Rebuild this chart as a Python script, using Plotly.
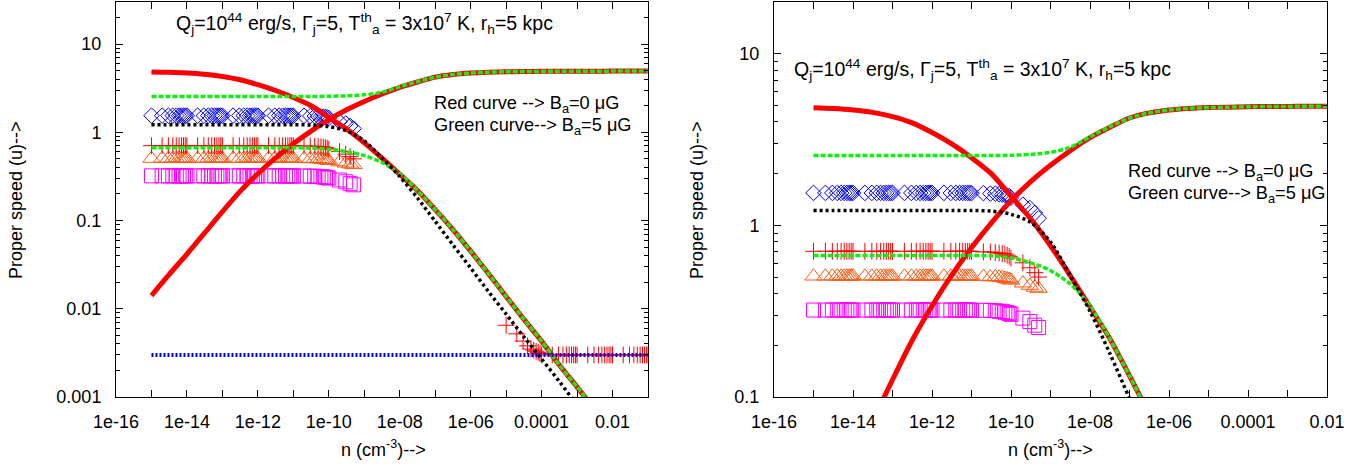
import math
import plotly.graph_objects as go

# ---------------- data ----------------
# density grid for the continuous curves (cm^-3)
N_CURVE = [1e-15, 3.16e-15, 1e-14, 3.16e-14, 1e-13, 3.16e-13, 1e-12, 3.16e-12,
           1e-11, 3.16e-11, 1e-10, 3.16e-10, 1e-9, 3.16e-9, 1e-8, 3.16e-8,
           1e-7, 3.16e-7, 1e-6, 3.16e-6, 1e-5, 3.16e-5, 1e-4, 3.16e-4,
           1e-3, 3.16e-3, 1e-2, 3.16e-2, 1e-1]

# red curve, B_a = 0, decreasing branch
U_RED_DEC = [4.84, 4.79, 4.70, 4.55, 4.30, 3.95, 3.47, 2.98,
             2.48, 2.00, 1.48, 1.09, 0.76, 0.51, 0.335, 0.219,
             0.133, 0.079, 0.045, 0.025, 0.0138, 0.0076, 0.0043, 0.0023,
             0.0013, 0.00072, 0.0004, 0.00022, 0.00012]

# red curve, B_a = 0, increasing branch
U_RED_INC = [0.0141, 0.0245, 0.0417, 0.0724, 0.126, 0.214, 0.339, 0.513,
             0.741, 1.03, 1.39, 1.80, 2.24, 2.72, 3.24, 3.72,
             4.22, 4.52, 4.70, 4.80, 4.85, 4.88, 4.91, 4.92,
             4.93, 4.935, 4.94, 4.945, 4.95]

# green curve, B_a = 5 muG, upper branch
U_GREEN_UP = [2.55, 2.55, 2.55, 2.55, 2.55, 2.55, 2.55, 2.55,
              2.55, 2.55, 2.56, 2.59, 2.66, 2.85, 3.28, 3.75,
              4.22, 4.52, 4.70, 4.80, 4.85, 4.88, 4.91, 4.92,
              4.93, 4.935, 4.94, 4.945, 4.95]

# green curve, B_a = 5 muG, lower branch
U_GREEN_LOW = [0.667, 0.667, 0.667, 0.667, 0.667, 0.667, 0.667, 0.667,
               0.667, 0.664, 0.645, 0.605, 0.545, 0.455, 0.34, 0.219,
               0.133, 0.079, 0.045, 0.025, 0.0138, 0.0076, 0.0043, 0.0023,
               0.0013, 0.00072, 0.0004, 0.00022, 0.00012]

# black dotted curve
U_BLACK = [1.22, 1.22, 1.22, 1.22, 1.22, 1.22, 1.22, 1.22,
           1.22, 1.21, 1.16, 1.04, 0.80, 0.51, 0.316, 0.18,
           0.098, 0.053, 0.029, 0.0157, 0.0087, 0.0048, 0.0027, 0.0015,
           0.00081, 0.00045, 0.00025, 0.00014, 0.00008]

# blue dotted horizontal line
N_BLUE = [1e-15, 1e-12, 1e-9, 1e-6, 1e-3, 1e-1]
U_BLUE = [0.003, 0.003, 0.003, 0.003, 0.003, 0.003]

# simulation points (markers)
N_MARK = [1e-15, 2e-15, 3e-15, 4e-15, 5e-15, 6e-15, 7e-15, 8e-15, 9e-15,
          1e-14, 2e-14, 3e-14, 4e-14, 5e-14, 6e-14, 7e-14, 8e-14, 9e-14,
          1e-13, 2e-13, 3e-13, 4e-13, 5e-13, 6e-13, 7e-13, 8e-13, 9e-13,
          1e-12, 2e-12, 3e-12, 4e-12, 5e-12, 6e-12, 7e-12, 8e-12, 9e-12,
          1e-11, 2e-11, 3e-11, 4e-11, 5e-11, 6e-11, 7e-11, 8e-11, 9e-11,
          1e-10, 2e-10, 3e-10, 4e-10, 5e-10]

U_DIAMOND = [1.545, 1.545, 1.545, 1.545, 1.545, 1.545, 1.545, 1.545, 1.545,
             1.545, 1.545, 1.545, 1.545, 1.545, 1.545, 1.545, 1.545, 1.545,
             1.545, 1.545, 1.545, 1.545, 1.545, 1.545, 1.545, 1.545, 1.545,
             1.545, 1.545, 1.545, 1.545, 1.545, 1.545, 1.545, 1.545, 1.545,
             1.54, 1.54, 1.53, 1.53, 1.52, 1.51, 1.50, 1.49, 1.48,
             1.45, 1.32, 1.26, 1.18, 1.10]

U_PLUS = [0.706, 0.706, 0.706, 0.706, 0.706, 0.706, 0.706, 0.706, 0.706,
          0.706, 0.706, 0.706, 0.706, 0.706, 0.706, 0.706, 0.706, 0.706,
          0.706, 0.706, 0.706, 0.706, 0.706, 0.706, 0.706, 0.706, 0.706,
          0.706, 0.706, 0.706, 0.706, 0.706, 0.706, 0.706, 0.706, 0.706,
          0.705, 0.70, 0.70, 0.695, 0.69, 0.685, 0.68, 0.67, 0.66,
          0.645, 0.605, 0.566, 0.53, 0.50]

U_TRIANGLE = [0.505, 0.505, 0.505, 0.505, 0.505, 0.505, 0.505, 0.505, 0.505,
              0.505, 0.505, 0.505, 0.505, 0.505, 0.505, 0.505, 0.505, 0.505,
              0.505, 0.505, 0.505, 0.505, 0.505, 0.505, 0.505, 0.505, 0.505,
              0.505, 0.505, 0.505, 0.505, 0.505, 0.505, 0.505, 0.505, 0.505,
              0.505, 0.503, 0.50, 0.50, 0.498, 0.495, 0.49, 0.487, 0.484,
              0.478, 0.46, 0.446, 0.435, 0.428]

U_SQUARE = [0.321, 0.321, 0.321, 0.321, 0.321, 0.321, 0.321, 0.321, 0.321,
            0.321, 0.321, 0.321, 0.321, 0.321, 0.321, 0.321, 0.321, 0.321,
            0.321, 0.321, 0.321, 0.321, 0.321, 0.321, 0.321, 0.321, 0.321,
            0.321, 0.321, 0.321, 0.321, 0.321, 0.321, 0.321, 0.321, 0.321,
            0.32, 0.32, 0.319, 0.318, 0.316, 0.314, 0.312, 0.31, 0.307,
            0.303, 0.288, 0.275, 0.262, 0.254]

# red plus points at high density (visible in left panel only)
N_PLUS_HI = [1e-5, 2e-5, 3e-5, 4e-5, 5e-5, 6e-5, 7e-5, 8e-5, 9e-5,
             1e-4, 2e-4, 3e-4, 4e-4, 5e-4, 6e-4, 7e-4, 8e-4, 9e-4,
             1e-3, 2e-3, 3e-3, 4e-3, 5e-3, 6e-3, 7e-3, 8e-3, 9e-3,
             1e-2, 2e-2, 3e-2, 4e-2, 5e-2, 6e-2, 7e-2, 8e-2, 9e-2,
             1e-1]
U_PLUS_HI = [0.0065, 0.0052, 0.0043, 0.0038, 0.0035, 0.0034, 0.0033, 0.0032, 0.0031,
             0.003, 0.003, 0.003, 0.003, 0.003, 0.003, 0.003, 0.003, 0.003,
             0.003, 0.003, 0.003, 0.003, 0.003, 0.003, 0.003, 0.003, 0.003,
             0.003, 0.003, 0.003, 0.003, 0.003, 0.003, 0.003, 0.003, 0.003,
             0.003]

X_TICK_EXP_LEFT = list(range(-16, 0))
X_TICK_EXP_RIGHT = list(range(-16, -1))
X_LABELS = {-16: "1e-16", -14: "1e-14", -12: "1e-12", -10: "1e-10",
            -8: "1e-08", -6: "1e-06", -4: "0.0001", -2: "0.01"}
Y_LABELS_LEFT = {0.001: "0.001", 0.01: "0.01", 0.1: "0.1", 1: "1", 10: "10"}
Y_LABELS_RIGHT = {0.1: "0.1", 1: "1", 10: "10"}

TITLE = ("Q<sub>j</sub>=10<sup>44</sup> erg/s, Γ<sub>j</sub>=5, "
         "T<sup>th</sup><sub>a</sub> = 3x10<sup>7</sup> K, r<sub>h</sub>=5 kpc")
LEG1 = "Red curve --&gt; B<sub>a</sub>=0 μG"
LEG2 = "Green curve--&gt; B<sub>a</sub>=5 μG"

# ---------------- figure ----------------
W, H = 1363, 464
FONT = "Liberation Sans, Arial, Helvetica, sans-serif"
RED = "#ff0000"
GREEN = "#11ee11"
BLUE = "#0000ff"
ORANGE = "#ff5a14"
MAGENTA = "#ff00ff"


def px(x):
    return x / W


def py(y):
    return 1 - y / H


fig = go.Figure()

for xa, ya in [("x", "y"), ("x2", "y2")]:
    common = dict(xaxis=xa, yaxis=ya, showlegend=False, hoverinfo="skip")
    fig.add_trace(go.Scatter(x=N_MARK, y=U_DIAMOND, mode="markers",
                             marker=dict(symbol="diamond-open", size=12, color=BLUE,
                                         line=dict(width=1, color=BLUE)), **common))
    fig.add_trace(go.Scatter(x=N_MARK, y=U_TRIANGLE, mode="markers",
                             marker=dict(symbol="triangle-up-open", size=15, color=ORANGE,
                                         line=dict(width=1, color=ORANGE)), **common))
    fig.add_trace(go.Scatter(x=N_MARK, y=U_SQUARE, mode="markers",
                             marker=dict(symbol="square-open", size=14, color=MAGENTA,
                                         line=dict(width=1, color=MAGENTA)), **common))
    fig.add_trace(go.Scatter(x=N_MARK, y=U_PLUS, mode="markers",
                             marker=dict(symbol="cross-thin-open", size=12, color=RED,
                                         line=dict(width=1, color=RED)), **common))
    fig.add_trace(go.Scatter(x=N_PLUS_HI, y=U_PLUS_HI, mode="markers",
                             marker=dict(symbol="cross-thin-open", size=12, color=RED,
                                         line=dict(width=1, color=RED)), **common))
    fig.add_trace(go.Scatter(x=N_CURVE, y=U_RED_DEC, mode="lines",
                             line=dict(color=RED, width=5, shape="spline", smoothing=0.8),
                             **common))
    fig.add_trace(go.Scatter(x=N_CURVE, y=U_RED_INC, mode="lines",
                             line=dict(color=RED, width=5, shape="spline", smoothing=0.8),
                             **common))
    fig.add_trace(go.Scatter(x=N_CURVE, y=U_GREEN_UP, mode="lines",
                             line=dict(color=GREEN, width=3.5, dash="5px,2px",
                                       shape="spline", smoothing=0.8), **common))
    fig.add_trace(go.Scatter(x=N_CURVE, y=U_GREEN_LOW, mode="lines",
                             line=dict(color=GREEN, width=3.5, dash="5px,2px",
                                       shape="spline", smoothing=0.8), **common))
    fig.add_trace(go.Scatter(x=N_CURVE, y=U_BLACK, mode="lines",
                             line=dict(color="black", width=3.5, dash="3px,3px",
                                       shape="spline", smoothing=0.8), **common))
    fig.add_trace(go.Scatter(x=N_BLUE, y=U_BLUE, mode="lines",
                             line=dict(color=BLUE, width=4, dash="2px,2px"), **common))

axis_common = dict(type="log", showline=True, linecolor="black", linewidth=1,
                   mirror="ticks", ticks="inside", ticklen=7, tickwidth=1,
                   tickcolor="black", showgrid=False, zeroline=False, automargin=False,
                   tickfont=dict(family=FONT, size=18, color="black"),
                   tickmode="array")


def xticks(exps):
    vals = [10.0 ** e for e in exps]
    text = [X_LABELS.get(e, "") for e in exps]
    return vals, text


def yminor(lo, hi):
    vals = []
    for e in range(lo, hi + 1):
        for m in range(2, 10):
            vals.append(m * 10.0 ** e)
    return dict(tickmode="array", tickvals=vals, ticks="inside", ticklen=4,
                tickcolor="black", tickwidth=1, showgrid=False)


xv1, xt1 = xticks(X_TICK_EXP_LEFT)
xv2, xt2 = xticks(X_TICK_EXP_RIGHT)

fig.update_layout(
    width=W, height=H,
    margin=dict(l=0, r=0, t=0, b=0, pad=0, autoexpand=False),
    paper_bgcolor="white", plot_bgcolor="white",
    font=dict(family=FONT, size=18, color="black"),
    xaxis=dict(domain=[px(116), px(648)], range=[-16, -1], anchor="y",
               tickvals=xv1, ticktext=xt1, ticklabelstandoff=8, **axis_common),
    yaxis=dict(domain=[py(397), py(2)], range=[-3, math.log10(30)], anchor="x",
               tickvals=list(Y_LABELS_LEFT.keys()), ticktext=list(Y_LABELS_LEFT.values()),
               ticklabelstandoff=10, minor=yminor(-3, 1), **axis_common),
    xaxis2=dict(domain=[px(774), px(1327)], range=[-16, -2], anchor="y2",
                tickvals=xv2, ticktext=xt2, ticklabelstandoff=8, **axis_common),
    yaxis2=dict(domain=[py(397), py(2)], range=[-1, math.log10(20)], anchor="x2",
                tickvals=list(Y_LABELS_RIGHT.keys()), ticktext=list(Y_LABELS_RIGHT.values()),
                ticklabelstandoff=10, minor=yminor(-1, 1), **axis_common),
)

ann = []


def text(x, y, s, size=18, **kw):
    d = dict(x=px(x), y=py(y), xref="paper", yref="paper", text=s, showarrow=False,
             xanchor="left", yanchor="middle", font=dict(family=FONT, size=size, color="black"))
    d.update(kw)
    ann.append(d)


text(174, 24, TITLE, size=19.5)
text(792, 69, TITLE, size=19.5)
text(432, 105, LEG1, size=18.2)
text(432, 126, LEG2, size=18.2)
text(1126, 173, LEG1, size=18.2)
text(1126, 194, LEG2, size=18.2)
text(383, 448, "n (cm<sup>-3</sup>)--&gt;", xanchor="center")
text(1050, 448, "n (cm<sup>-3</sup>)--&gt;", xanchor="center")
text(16, 200, "Proper speed (u)--&gt;", xanchor="center", textangle=-90)
text(697, 200, "Proper speed (u)--&gt;", xanchor="center", textangle=-90)
fig.update_layout(annotations=ann)

fig.write_html("out.html",
               config={"displayModeBar": False},
               post_script="document.body.style.margin='0px';"
                           "document.body.style.overflow='hidden';")
